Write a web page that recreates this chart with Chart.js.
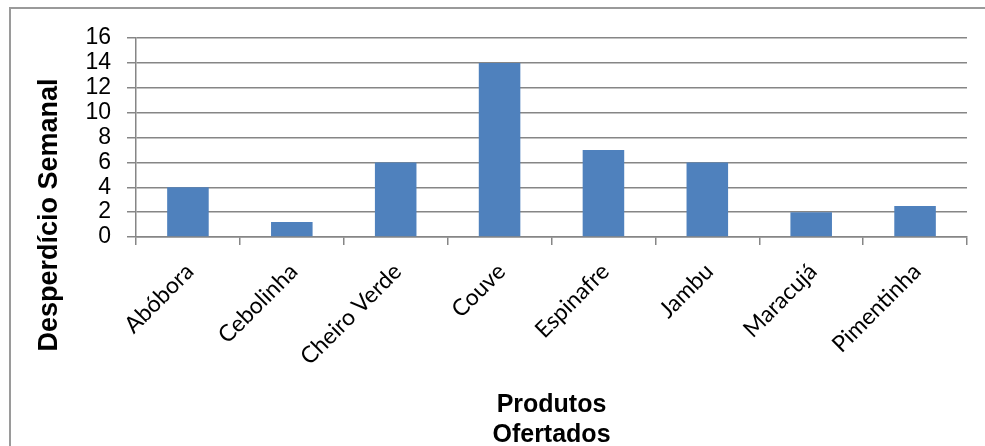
<!DOCTYPE html>
<html>
<head>
<meta charset="utf-8">
<script src="https://cdn.jsdelivr.net/npm/chart.js@4.4.0/dist/chart.umd.min.js"></script>
<style>
    body { margin: 0; background: #fff; }
    #wrap { position: relative; width: 985px; height: 446px; overflow: hidden; }
    #frame { position: absolute; left: 9px; top: 7px; width: 1000px; height: 1000px; border: 2px solid #9a9a9a; }
    #desperdicioChart { position: absolute; left: 0; top: 0; }
</style>
</head>
<body>
<div id="wrap">
    <div id="frame"></div>
    <canvas id="desperdicioChart" width="985" height="446"></canvas>
</div>
<script>
// data
const produtos = ['Abóbora', 'Cebolinha', 'Cheiro Verde', 'Couve', 'Espinafre', 'Jambu', 'Maracujá', 'Pimentinha'];
const desperdicio = [4, 1.2, 6, 14, 7, 6, 2, 2.5];
const yMin = 0;
const yMax = 16;
const yStep = 2;
const yTitle = 'Desperdício Semanal';
const xTitle = ['Produtos', 'Ofertados'];

const gridColor = '#868686';

// axis titles drawn where the original puts them
const axisTitles = {
    id: 'axisTitles',
    afterDraw(chart) {
        const ctx = chart.ctx;
        const area = chart.chartArea;
        ctx.save();
        ctx.fillStyle = '#000';
        ctx.font = 'bold 25px "Liberation Sans", Arial, sans-serif';
        ctx.textAlign = 'center';
        ctx.textBaseline = 'alphabetic';
        const cx = (area.left + area.right) / 2;
        ctx.fillText(xTitle[0], cx, 412);
        ctx.fillText(xTitle[1], cx, 442);

        ctx.font = 'bold 27px "Liberation Sans", Arial, sans-serif';
        ctx.translate(50, 215);
        ctx.rotate(-Math.PI / 2);
        ctx.textBaseline = 'middle';
        ctx.fillText(yTitle, 0, 0);
        ctx.restore();
    }
};

const ctx = document.getElementById('desperdicioChart').getContext('2d');
new Chart(ctx, {
    type: 'bar',
    data: {
        labels: produtos,
        datasets: [{
            data: desperdicio,
            backgroundColor: '#4F81BD',
            borderWidth: 0,
            barPercentage: 0.4,
            categoryPercentage: 1.0
        }]
    },
    options: {
        responsive: false,
        animation: false,
        layout: {
            padding: { top: 38, right: 18, left: 0, bottom: 0 }
        },
        plugins: {
            legend: { display: false },
            tooltip: { enabled: false }
        },
        scales: {
            x: {
                offset: true,
                grid: {
                    offset: true,
                    drawOnChartArea: false,
                    drawTicks: true,
                    tickLength: 8,
                    color: gridColor,
                    lineWidth: 1.5
                },
                border: { color: gridColor, width: 1.5 },
                ticks: {
                    minRotation: 45,
                    maxRotation: 45,
                    autoSkip: false,
                    padding: 13,
                    labelOffset: 2,
                    color: '#000',
                    font: { family: 'Lato, "Open Sans", sans-serif', size: 23 }
                },
                afterFit(scale) { scale.height = 446 - 237; }
            },
            y: {
                min: yMin,
                max: yMax,
                grid: {
                    color: gridColor,
                    lineWidth: 1.5,
                    tickLength: 9
                },
                border: { color: gridColor, width: 1.5 },
                ticks: {
                    stepSize: yStep,
                    autoSkip: false,
                    padding: 16,
                    color: '#000',
                    font: { family: '"Liberation Sans", Arial, sans-serif', size: 23 }
                },
                afterFit(scale) { scale.width = 136; }
            }
        }
    },
    plugins: [axisTitles]
});
</script>
</body>
</html>
